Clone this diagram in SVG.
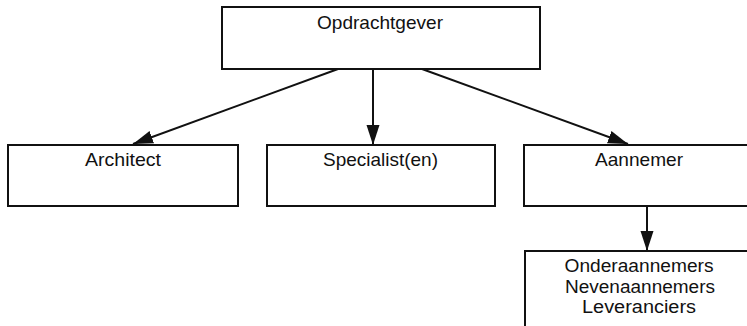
<svg xmlns="http://www.w3.org/2000/svg" width="747" height="326" viewBox="0 0 747 326">
  <style>
    .box { fill: #ffffff; stroke: #111111; stroke-width: 2; }
    .lbl { font-family: "Liberation Sans", Arial, sans-serif; font-size: 18.5px; fill: #111111; text-anchor: middle; }
    .lbl.small { font-size: 17.5px; }
    .link { stroke: #111111; stroke-width: 2; fill: none; }
  </style>
  <defs>
    <marker id="arrow" markerUnits="userSpaceOnUse" markerWidth="22" markerHeight="14" refX="20" refY="7" orient="auto">
      <path d="M0,0.5 L20,7 L0,13.5 Z" fill="#111111"/>
    </marker>
  </defs>
  <rect width="747" height="326" fill="#ffffff"/>

  <g id="connectors">
    <line class="link" x1="338" y1="69" x2="133" y2="144" marker-end="url(#arrow)"/>
    <line class="link" x1="373" y1="69" x2="373" y2="145" marker-end="url(#arrow)"/>
    <line class="link" x1="422" y1="69" x2="628" y2="144" marker-end="url(#arrow)"/>
    <line class="link" x1="647" y1="206" x2="647" y2="251" marker-end="url(#arrow)"/>
  </g>

  <g id="opdrachtgever">
    <rect class="box" x="222" y="7" width="318" height="62"/>
    <text class="lbl" x="380" y="29" textLength="126" lengthAdjust="spacingAndGlyphs">Opdrachtgever</text>
  </g>

  <g id="architect">
    <rect class="box" x="8" y="145" width="230" height="61"/>
    <text class="lbl" x="123" y="166" textLength="76" lengthAdjust="spacingAndGlyphs">Architect</text>
  </g>

  <g id="specialisten">
    <rect class="box" x="267" y="145" width="228" height="61"/>
    <text class="lbl" x="380.5" y="166" textLength="115" lengthAdjust="spacingAndGlyphs">Specialist(en)</text>
  </g>

  <g id="aannemer">
    <rect class="box" x="524" y="145" width="240" height="61"/>
    <text class="lbl" x="639" y="166" textLength="88" lengthAdjust="spacingAndGlyphs">Aannemer</text>
  </g>

  <g id="onderaannemers">
    <rect class="box" x="525" y="251" width="240" height="100"/>
    <text class="lbl small" x="639" y="272" textLength="149" lengthAdjust="spacingAndGlyphs">Onderaannemers</text>
    <text class="lbl small" x="640" y="292.5" textLength="150" lengthAdjust="spacingAndGlyphs">Nevenaannemers</text>
    <text class="lbl small" x="639" y="313" textLength="114" lengthAdjust="spacingAndGlyphs">Leveranciers</text>
  </g>
</svg>
